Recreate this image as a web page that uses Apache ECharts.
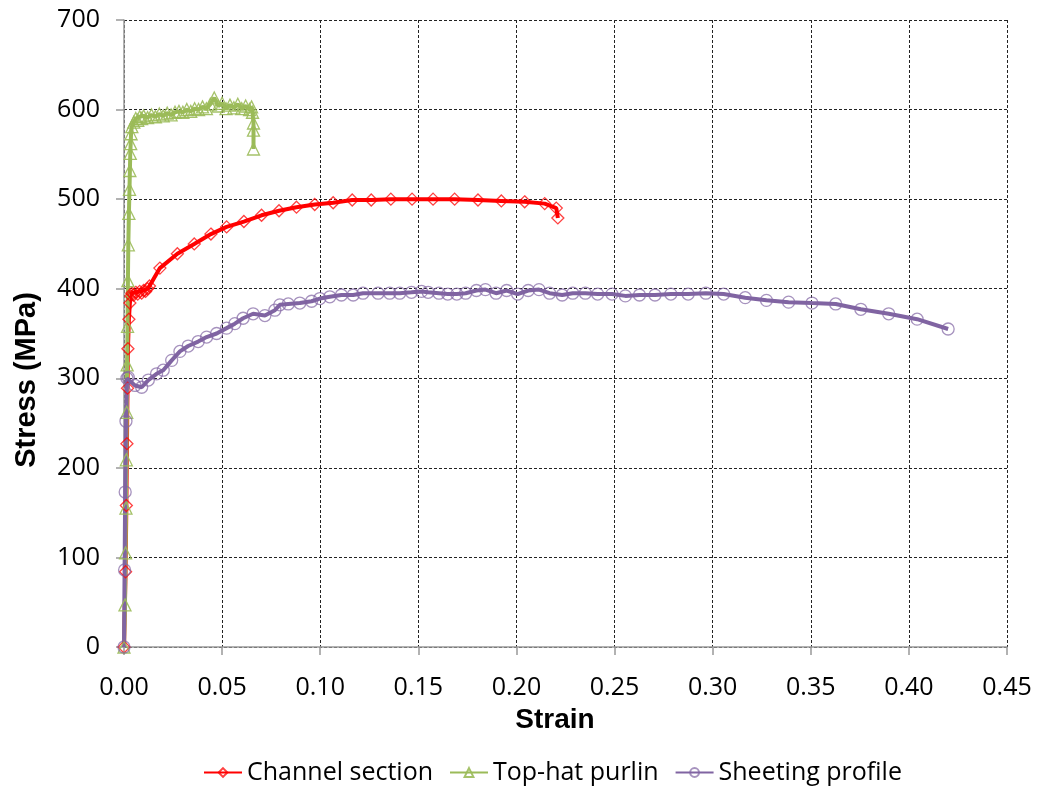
<!DOCTYPE html>
<html><head><meta charset="utf-8">
<script src="https://cdn.jsdelivr.net/npm/echarts@6/dist/echarts.min.js"></script>
<style>html,body{margin:0;padding:0;background:#fff}#c{width:1042px;height:792px}</style>
</head><body><div id="c"></div>
<script>
const seriesNames = ['Channel section', 'Top-hat purlin', 'Sheeting profile'];
const xTitle = 'Strain';
const yTitle = 'Stress (MPa)';

const channel = [
 [0,0],[0.0008,84],[0.0012,158],[0.0015,227],[0.0018,289],[0.002,333],[0.0025,366],[0.003,384],
 [0.0035,392],[0.004,395],[0.005,393],[0.006,396],[0.007,394],[0.008,397],[0.009,395],[0.010,398],
 [0.011,397],[0.012,400],[0.013,403],[0.0183,423],[0.0272,439],[0.0358,450],[0.0443,461],[0.0523,469],
 [0.0611,475],[0.0701,482],[0.079,487],[0.0879,491],[0.0972,494],[0.1066,496],[0.1163,499],[0.126,499],
 [0.136,500],[0.1468,500],[0.1575,500],[0.1685,500],[0.1804,499],[0.1923,498],[0.2042,497],[0.2144,495],
 [0.2203,490],[0.2211,479]
];
const tophat = [
 [0,0],[0.0005,47],[0.0008,105],[0.001,155],[0.0012,209],[0.0014,262],[0.0016,315],[0.0018,358],
 [0.002,409],[0.0022,449],[0.0025,484],[0.0028,511],[0.003,532],[0.0032,551],[0.0034,562],[0.0036,573],
 [0.004,581],[0.005,586],[0.006,590],[0.007,588],[0.008,592],[0.009,590],[0.010,593],[0.012,591],
 [0.014,594],[0.016,592],[0.018,595],[0.020,593],[0.022,596],[0.024,594],[0.026,597],[0.028,598],
 [0.030,597],[0.032,600],[0.034,598],[0.036,601],[0.038,600],[0.040,603],[0.042,601],[0.044,606],
 [0.046,613],[0.048,604],[0.050,607],[0.052,601],[0.054,605],[0.056,602],[0.058,606],[0.060,601],
 [0.062,604],[0.064,600],[0.065,603],[0.0655,597],[0.066,585],[0.066,577],[0.066,556]
];
const sheeting = [
 [0,0],[0.0003,86],[0.0006,173],[0.001,252],[0.0015,300],[0.0022,301],[0.0056,292],[0.009,290],
 [0.0124,298],[0.0166,305],[0.020,309],[0.0243,320],[0.0285,330],[0.0327,336],[0.0378,341],[0.0421,346],
 [0.0472,350],[0.0523,356],[0.0565,361],[0.0607,367],[0.0658,372],[0.0718,370],[0.0769,376],[0.0794,382],
 [0.0837,383],[0.0896,384],[0.0956,386],[0.0998,389],[0.1049,391],[0.1108,393],[0.1168,393],[0.1218,395],
 [0.1295,395],[0.1354,395],[0.1405,395],[0.1465,396],[0.1516,397],[0.155,396],[0.1605,395],[0.165,394],
 [0.1696,394],[0.1741,395],[0.1796,398],[0.1842,399],[0.1896,395],[0.195,398],[0.2006,394],[0.206,398],
 [0.2115,399],[0.2169,395],[0.2233,393],[0.2287,395],[0.2351,395],[0.2414,394],[0.2487,394],[0.2555,392],
 [0.2627,393],[0.2706,393],[0.2787,394],[0.2875,394],[0.2965,395],[0.3056,394],[0.3166,390],[0.3274,387],
 [0.3387,385],[0.3506,384],[0.3627,383],[0.3755,377],[0.3897,372],[0.4042,366],[0.42,355]
];

const FONT = '"Open Sans", "Noto Sans", sans-serif';
const TITLEFONT = '"Liberation Sans", Arial, sans-serif';
const gridLine = {show: true, lineStyle: {color: '#222', width: 1, type: [3, 2]}};

function mk(name, data, color, symbol, markerColor) {
  return {
    name, type: 'line', data, symbol, symbolSize: 12, showSymbol: true,
    lineStyle: {color, width: 4},
    itemStyle: {color: 'rgba(255,255,255,0)', borderColor: markerColor, borderWidth: 1.3},
    emphasis: {disabled: true}, animation: false, z: 3
  };
}

const chart = echarts.init(document.getElementById('c'), null, {renderer: 'canvas'});
chart.setOption({
  animation: false,
  backgroundColor: '#fff',
  grid: {left: 124, right: 35, top: 20, bottom: 145, containLabel: false, outerBoundsMode: 'none'},
  graphic: [
    {type: 'text', x: 555, y: 720, style: {text: xTitle, font: 'bold 28px ' + TITLEFONT, fill: '#000',
      textAlign: 'center', textVerticalAlign: 'middle'}},
    {type: 'text', x: 27, y: 380, rotation: Math.PI / 2, style: {text: yTitle, font: 'bold 29px ' + TITLEFONT,
      fill: '#000', textAlign: 'center', textVerticalAlign: 'middle'}}
  ],
  xAxis: {
    type: 'value', min: 0, max: 0.45, interval: 0.05,
    axisLine: {show: true, onZero: false, lineStyle: {color: '#999', width: 1.5}},
    axisTick: {show: true, inside: false, length: 8, lineStyle: {color: '#999', width: 1.5}},
    axisLabel: {fontFamily: FONT, fontSize: 25, color: '#000', margin: 28,
      formatter: v => v.toFixed(2)},
    splitLine: gridLine
  },
  yAxis: {
    type: 'value', min: 0, max: 700, interval: 100,
    axisLine: {show: true, lineStyle: {color: '#999', width: 1.5}},
    axisTick: {show: true, length: 8, lineStyle: {color: '#999', width: 1.5}},
    axisLabel: {fontFamily: FONT, fontSize: 25, color: '#000', margin: 24},
    splitLine: gridLine
  },
  legend: {
    bottom: 2, left: 198, itemWidth: 38, itemHeight: 11, itemGap: 16,
    textStyle: {fontFamily: FONT, fontSize: 25, color: '#000'},
    data: seriesNames
  },
  series: [
    mk(seriesNames[0], channel, '#FF0000', 'diamond', 'rgba(255,0,0,0.75)'),
    mk(seriesNames[1], tophat, '#9BBB59', 'triangle', 'rgba(155,187,89,0.9)'),
    mk(seriesNames[2], sheeting, '#8064A2', 'circle', 'rgba(128,100,162,0.7)')
  ]
});
</script></body></html>
